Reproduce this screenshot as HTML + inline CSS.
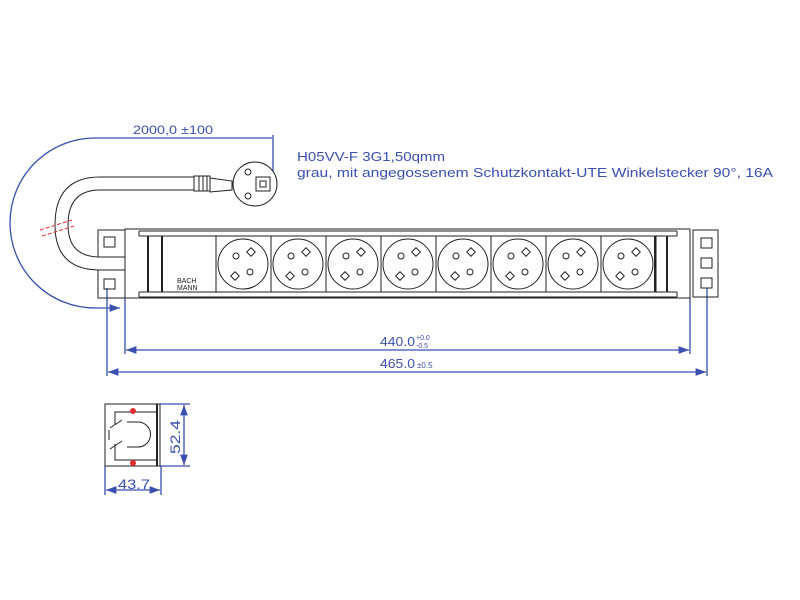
<!DOCTYPE html><html><head><style>body{margin:0;background:#fff}svg{display:block}</style></head><body>
<svg width="800" height="600" viewBox="0 0 800 600" xmlns="http://www.w3.org/2000/svg" font-family="Liberation Sans, sans-serif">
<defs><marker id="a" markerWidth="8" markerHeight="6" refX="8" refY="3" orient="auto"><path d="M0,0L8,3L0,6z" fill="#3a4fb0"/></marker>
<marker id="b" markerWidth="8" markerHeight="6" refX="0" refY="3" orient="auto"><path d="M8,0L0,3L8,6z" fill="#3a4fb0"/></marker></defs>
<g fill="none" stroke="#3a4fb0" stroke-width="1.3">
<path d="M272,138 L95,138 A85,85 0 0 0 95,308 L120,308" marker-end="url(#a)"/>
<line x1="273" y1="135" x2="273" y2="185"/>
<line x1="125" y1="298" x2="125" y2="354"/><line x1="690" y1="298" x2="690" y2="354"/>
<line x1="107" y1="288" x2="107" y2="376"/><line x1="707" y1="288" x2="707" y2="376"/>
<line x1="126" y1="350" x2="689" y2="350" marker-start="url(#b)" marker-end="url(#a)"/>
<line x1="108" y1="372" x2="706" y2="372" marker-start="url(#b)" marker-end="url(#a)"/>
<line x1="160" y1="404" x2="190" y2="404"/><line x1="160" y1="466" x2="190" y2="466"/>
<line x1="184" y1="405" x2="184" y2="465" marker-start="url(#b)" marker-end="url(#a)"/>
<line x1="105" y1="466" x2="105" y2="495"/><line x1="161" y1="466" x2="161" y2="495"/>
<line x1="106" y1="490" x2="160" y2="490" marker-start="url(#b)" marker-end="url(#a)"/>
</g>
<g fill="#3a4fb0" font-size="12">
<text x="133" y="134" textLength="80" lengthAdjust="spacingAndGlyphs">2000,0  ±100</text>
<text x="297" y="161" font-size="13" textLength="148" lengthAdjust="spacingAndGlyphs">H05VV-F 3G1,50qmm</text>
<text x="297" y="177" font-size="13" textLength="476" lengthAdjust="spacingAndGlyphs">grau, mit angegossenem Schutzkontakt-UTE Winkelstecker 90°, 16A</text>
<text x="380" y="346" font-size="13" textLength="35" lengthAdjust="spacingAndGlyphs">440.0</text><text x="416" y="340" font-size="7">+0.0</text><text x="416" y="348" font-size="7">-0.5</text>
<text x="380" y="368" font-size="13" textLength="35" lengthAdjust="spacingAndGlyphs">465.0</text><text x="417" y="368" font-size="8">±0.5</text>
<text x="118" y="489" font-size="14" textLength="32" lengthAdjust="spacingAndGlyphs">43.7</text>
<text x="180" y="454" font-size="14" transform="rotate(-90 180 454)" textLength="34" lengthAdjust="spacingAndGlyphs">52.4</text>
</g>
<g fill="none" stroke="#222" stroke-width="1">
<path d="M195,177 L100,177 Q55,177 55,225 Q55,270 100,270 L125,270"/>
<path d="M195,190 L100,190 Q68,190 68,225 Q68,257 100,257 L125,257"/>
<rect x="194" y="176" width="16" height="15" fill="#fff"/>
<line x1="199" y1="176" x2="199" y2="191"/><line x1="203" y1="176" x2="203" y2="191"/><line x1="207" y1="176" x2="207" y2="191"/>
<path d="M210,178 L232,181 L232,190 L210,192z"/>
<circle cx="255" cy="184" r="22" fill="#fff"/>
<circle cx="248" cy="172" r="3"/><circle cx="248" cy="196" r="3"/>
<rect x="256" y="177" width="14" height="14"/><rect x="260" y="181" width="6" height="6"/>
<rect x="98" y="230" width="27" height="27"/><rect x="98" y="270" width="27" height="28"/>
<rect x="104" y="237" width="11" height="10"/><rect x="104" y="279" width="11" height="10"/>
<rect x="125" y="229" width="565" height="69"/>
<line x1="139" y1="231" x2="677" y2="231"/><line x1="139" y1="236" x2="677" y2="236"/>
<line x1="139" y1="292" x2="677" y2="292"/><line x1="139" y1="297" x2="677" y2="297"/>
<line x1="139" y1="231" x2="139" y2="236"/><line x1="139" y1="292" x2="139" y2="297"/>
<line x1="677" y1="231" x2="677" y2="236"/><line x1="677" y1="292" x2="677" y2="297"/>
<line x1="148" y1="236" x2="148" y2="292" stroke-width="2"/><line x1="162" y1="236" x2="162" y2="292" stroke-width="2"/>
<line x1="216" y1="236" x2="216" y2="292"/>
<line x1="655" y1="236" x2="655" y2="292" stroke-width="2"/><line x1="667" y1="236" x2="667" y2="292" stroke-width="2"/>
<rect x="693" y="230" width="25" height="67"/>
<rect x="701" y="238" width="11" height="10"/><rect x="701" y="258" width="11" height="10"/><rect x="701" y="278" width="11" height="10"/>
<rect x="105" y="404" width="55" height="62"/>
<line x1="157" y1="404" x2="157" y2="466" stroke-width="2"/>
<path d="M157,412 L115,412 L115,425 M115,444 L115,460 L157,460"/>
<path d="M127,422 L138,422 A12,12 0 0 1 138,447 L127,447"/>
<line x1="110" y1="428" x2="122" y2="420"/><line x1="110" y1="449" x2="122" y2="441"/>
<line x1="109" y1="430" x2="109" y2="440"/>
</g>
<g fill="none" stroke="#222" stroke-width="1">
<g id="s"><line x1="271" y1="236" x2="271" y2="292"/><circle cx="243" cy="264" r="25"/><circle cx="236" cy="256" r="3"/><circle cx="250" cy="272" r="3"/><rect x="248" y="249" width="6" height="6" transform="rotate(45 251 252)"/><rect x="232" y="273" width="6" height="6" transform="rotate(45 235 276)"/></g>
<use href="#s" x="55"/><use href="#s" x="110"/><use href="#s" x="165"/><use href="#s" x="220"/><use href="#s" x="275"/><use href="#s" x="330"/><use href="#s" x="385"/>
</g>
<text x="177" y="283" font-size="7" fill="#222">BACH</text><text x="177" y="290" font-size="7" fill="#222">MANN</text>
<g stroke="#e03030" stroke-width="1" stroke-dasharray="4,2"><line x1="40" y1="230" x2="72" y2="220"/><line x1="42" y1="236" x2="74" y2="226"/></g>
<circle cx="133" cy="411" r="3" fill="#e03030"/><circle cx="133" cy="463" r="3" fill="#e03030"/>
</svg></body></html>
